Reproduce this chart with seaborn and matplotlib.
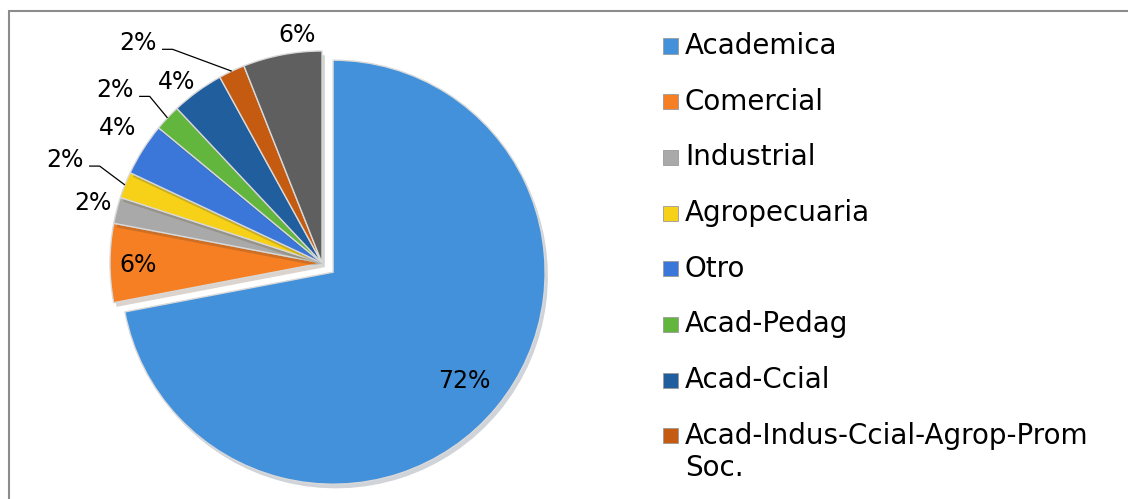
"""Pie chart of programme types (share of institutions)."""

import numpy as np
import matplotlib.pyplot as plt
import matplotlib.patheffects as pe
from matplotlib.patches import Rectangle
import seaborn as sns


CATEGORIES = [
    "Academica",
    "Comercial",
    "Industrial",
    "Agropecuaria",
    "Otro",
    "Acad-Pedag",
    "Acad-Ccial",
    "Acad-Indus-Ccial-Agrop-Prom\nSoc.",
    "Sin dato",
]
SHARES = [72, 6, 2, 2, 4, 2, 4, 2, 6]
PCT_LABELS = ["72%", "6%", "2%", "2%", "4%", "2%", "4%", "2%", "6%"]
LEGEND_COUNT = 8  # the last slice is not listed in the legend

COLORS = ["#4391DB", "#F57F22", "#A9A9A9", "#F7D117", "#3B76D9",
          "#62B53D", "#205E9E", "#C55A11", "#5F5F5F"]

# label layout: radial distance and angular tweak (deg) from each wedge's mid angle
LABEL_DIST = [0.806, 0.868, 1.117, 1.306, 1.154, 1.272, 1.094, 1.353, 1.081]
LABEL_TURN = [0.0, 0.5, -0.3, -0.3, -1.1, 3.3, 2.7, 14.7, -4.5]
LEADERS = {3, 5, 7}

W, H = 1128, 499

sns.set_theme(style="white")
plt.rcParams["font.family"] = ["DejaVu Sans"]

fig = plt.figure(figsize=(W / 100, H / 100), dpi=100)
ax = fig.add_axes([110 / W, 24 / H, 424 / W, 424 / H])

explode = [0.068] + [0.0] * (len(SHARES) - 1)
wedges, _ = ax.pie(
    SHARES,
    colors=COLORS,
    startangle=90,
    counterclock=False,
    explode=explode,
    wedgeprops=dict(edgecolor="#d9d9d9", linewidth=1.0),
)
ax.set_xlim(-1, 1)
ax.set_ylim(-1, 1)
ax.set_aspect("equal")

for w in wedges:
    w.set_clip_on(False)
    w.set_path_effects([pe.SimplePatchShadow(offset=(2, -3), alpha=0.2), pe.Normal()])

for i, w in enumerate(wedges):
    mid = np.deg2rad((w.theta1 + w.theta2) / 2 + LABEL_TURN[i])
    cx, cy = w.center
    tx = cx + LABEL_DIST[i] * np.cos(mid)
    ty = cy + LABEL_DIST[i] * np.sin(mid)
    ax.text(tx, ty, PCT_LABELS[i], ha="center", va="center", fontsize=17,
            color="black", clip_on=False)
    if i in LEADERS:
        emid = np.deg2rad((w.theta1 + w.theta2) / 2)
        ex, ey = cx + np.cos(emid), cy + np.sin(emid)
        sx, sy = tx + 0.113, ty - 0.03
        ax.plot([sx, sx + 0.05, ex], [sy, sy, ey], color="black", lw=0.9,
                clip_on=False, solid_capstyle="butt")

# legend drawn by hand so the two-line entry keeps its marker on the first line
row0, pitch, line_pitch = 46, 55.7, 32
for i in range(LEGEND_COUNT):
    yc = row0 + i * pitch
    fig.add_artist(Rectangle((663 / W, 1 - (yc + 7.5) / H), 15 / W, 15 / H,
                             transform=fig.transFigure, facecolor=COLORS[i],
                             edgecolor="#9a9a9a", linewidth=0.6))
    for j, line in enumerate(CATEGORIES[i].split("\n")):
        fig.text(685 / W, 1 - (yc + j * line_pitch) / H, line, ha="left",
                 va="center", fontsize=20, color="black")

fig.add_artist(Rectangle((9 / W, -0.1), 1.2, 1.1 - 11 / H, transform=fig.transFigure,
                         fill=False, edgecolor="#8c8c8c", linewidth=1.5))

fig.savefig("out.png", dpi=100)
